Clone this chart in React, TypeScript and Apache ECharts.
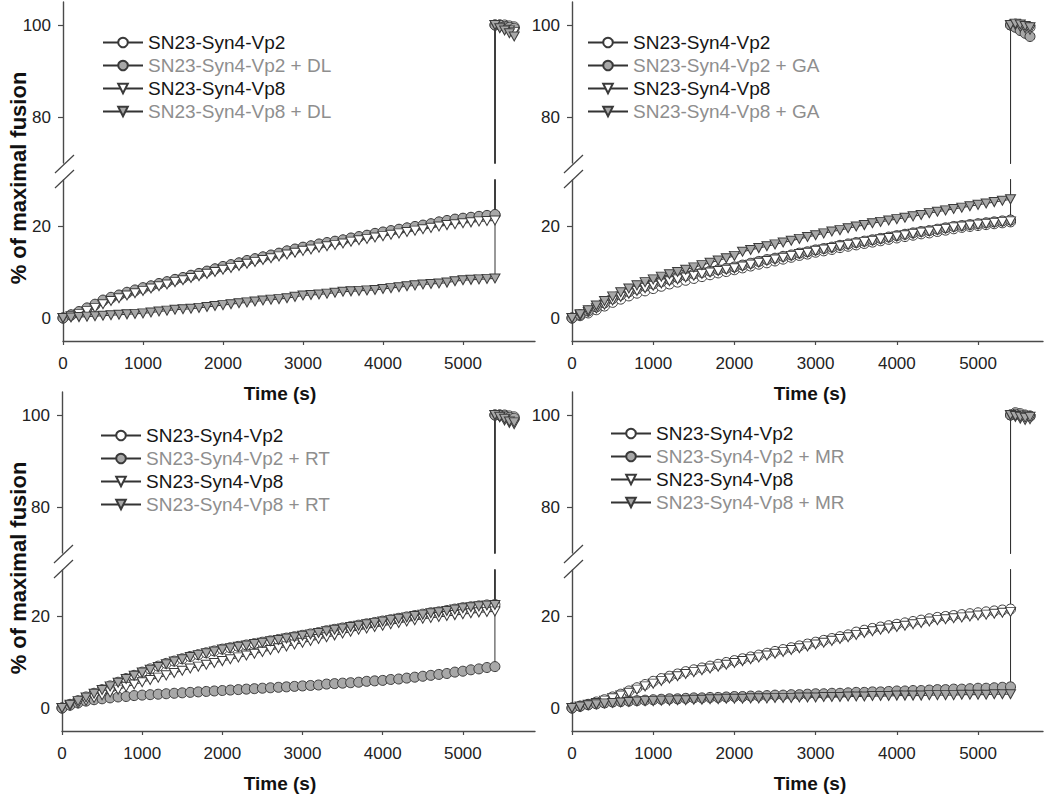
import React, { useEffect, useRef } from "react";
import * as echarts from "echarts";

// ---------- DATA ----------
const times = [
  0, 100, 200, 300, 400, 500, 600, 700, 800, 900,
  1000, 1100, 1200, 1300, 1400, 1500, 1600, 1700, 1800, 1900,
  2000, 2100, 2200, 2300, 2400, 2500, 2600, 2700, 2800, 2900,
  3000, 3100, 3200, 3300, 3400, 3500, 3600, 3700, 3800, 3900,
  4000, 4100, 4200, 4300, 4400, 4500, 4600, 4700, 4800, 4900,
  5000, 5100, 5200, 5300, 5400,
];
const upperTimes = [5400, 5460, 5520, 5580, 5640];
const xTickValues = [0, 1000, 2000, 3000, 4000, 5000];
const lowerTickValues = [0, 20];
const upperTickValues = [80, 100];

// Panel DL
const dlVp2 = [
  0, 0.6, 1.3, 2.0, 2.8, 3.7, 4.3, 4.9, 5.4, 5.9,
  6.4, 6.9, 7.4, 7.8, 8.3, 8.7, 9.2, 9.6, 10.1, 10.6,
  11.1, 11.5, 11.9, 12.4, 12.8, 13.2, 13.6, 14.0, 14.5, 14.9,
  15.3, 15.6, 16.0, 16.3, 16.6, 16.9, 17.3, 17.6, 17.9, 18.3,
  18.6, 18.9, 19.2, 19.5, 19.8, 20.1, 20.4, 20.8, 21.1, 21.4,
  21.6, 21.8, 22.0, 22.2, 22.4,
];
const dlVp2Drug = [
  0, 0.7, 1.4, 2.2, 3.0, 3.9, 4.5, 5.0, 5.6, 6.1,
  6.6, 7.0, 7.5, 7.9, 8.4, 8.8, 9.3, 9.7, 10.2, 10.7,
  11.2, 11.6, 12.0, 12.5, 12.9, 13.3, 13.7, 14.1, 14.6, 15.0,
  15.4, 15.7, 16.1, 16.4, 16.7, 17.0, 17.4, 17.7, 18.0, 18.4,
  18.7, 19.0, 19.3, 19.6, 19.9, 20.2, 20.5, 20.9, 21.2, 21.5,
  21.7, 21.9, 22.1, 22.3, 22.5,
];
const dlVp8 = [
  0, 0.4, 0.9, 1.5, 2.2, 3.0, 3.7, 4.3, 4.9, 5.4,
  5.9, 6.4, 6.9, 7.3, 7.8, 8.2, 8.7, 9.1, 9.6, 10.0,
  10.5, 10.9, 11.3, 11.8, 12.2, 12.6, 13.0, 13.4, 13.8, 14.2,
  14.6, 14.9, 15.3, 15.6, 15.9, 16.2, 16.6, 16.9, 17.2, 17.5,
  17.8, 18.1, 18.4, 18.7, 19.0, 19.3, 19.6, 19.9, 20.2, 20.4,
  20.6, 20.8, 21.0, 21.1, 21.2,
];
const dlVp8Drug = [
  0, 0.1, 0.2, 0.3, 0.4, 0.5, 0.6, 0.7, 0.8, 0.9,
  1.0, 1.2, 1.4, 1.6, 1.8, 1.9, 2.0, 2.2, 2.4, 2.6,
  2.8, 3.0, 3.2, 3.4, 3.6, 3.8, 4.0, 4.1, 4.3, 4.6,
  4.9, 5.0, 5.1, 5.3, 5.5, 5.7, 5.8, 5.9, 6.0, 6.1,
  6.3, 6.5, 6.7, 6.9, 7.1, 7.3, 7.4, 7.5, 7.7, 8.0,
  8.2, 8.3, 8.4, 8.5, 8.6,
];
const dlUpper = [
  [100, 100, 100, 99.8, 99.6],
  [100, 100, 99.7, 99.5, 99.3],
  [100, 99.5, 99.0, 98.8, 98.5],
  [100, 99.3, 98.8, 98.2, 97.5],
];

// Panel GA
const gaVp2 = [
  0, 0.5, 1.1, 1.8, 2.6, 3.4, 4.1, 4.8, 5.4, 5.9,
  6.4, 6.9, 7.4, 7.8, 8.2, 8.6, 9.0, 9.4, 9.8, 10.1,
  10.5, 10.9, 11.3, 11.7, 12.0, 12.4, 12.8, 13.2, 13.6, 13.9,
  14.3, 14.6, 14.9, 15.3, 15.6, 15.9, 16.2, 16.5, 16.8, 17.1,
  17.4, 17.7, 18.0, 18.3, 18.5, 18.8, 19.1, 19.4, 19.7, 19.9,
  20.1, 20.3, 20.5, 20.7, 20.9,
];
const gaVp2Drug = [
  0, 0.7, 1.5, 2.4, 3.3, 4.2, 5.0, 5.7, 6.3, 6.9,
  7.4, 7.9, 8.4, 8.8, 9.2, 9.6, 9.9, 10.2, 10.5, 10.8,
  11.1, 11.5, 11.9, 12.3, 12.7, 13.0, 13.4, 13.7, 14.1, 14.4,
  14.8, 15.1, 15.4, 15.8, 16.1, 16.4, 16.7, 17.0, 17.3, 17.6,
  17.9, 18.2, 18.5, 18.8, 19.0, 19.3, 19.6, 19.9, 20.1, 20.3,
  20.5, 20.7, 20.9, 21.1, 21.3,
];
const gaVp8 = [
  0, 0.6, 1.3, 2.1, 2.9, 3.8, 4.6, 5.3, 5.9, 6.5,
  7.0, 7.5, 8.0, 8.4, 8.8, 9.2, 9.6, 9.9, 10.2, 10.5,
  10.8, 11.2, 11.6, 12.0, 12.4, 12.7, 13.1, 13.5, 13.9, 14.2,
  14.6, 14.9, 15.2, 15.6, 15.9, 16.2, 16.5, 16.8, 17.1, 17.4,
  17.7, 18.0, 18.3, 18.6, 18.8, 19.1, 19.4, 19.7, 19.9, 20.1,
  20.3, 20.5, 20.7, 20.9, 21.0,
];
const gaVp8Drug = [
  0, 0.8, 1.7, 2.7, 3.7, 4.7, 5.6, 6.4, 7.1, 7.8,
  8.4, 9.0, 9.5, 10.0, 10.5, 11.0, 11.5, 12.0, 12.5, 13.0,
  13.5, 14.4, 14.8, 15.2, 15.6, 16.0, 16.4, 16.8, 17.2, 17.6,
  18.0, 18.4, 18.8, 19.1, 19.5, 19.9, 20.2, 20.6, 20.9, 21.2,
  21.5, 21.8, 22.1, 22.4, 22.8, 23.1, 23.4, 23.7, 24.0, 24.3,
  24.6, 24.9, 25.2, 25.5, 25.8,
];
const gaUpper = [
  [100, 100.2, 100, 99.7, 99.5],
  [100, 99.5, 98.8, 98.2, 97.5],
  [100, 100, 99.6, 99.3, 99.0],
  [100, 100.3, 100.1, 99.8, 99.5],
];

// Panel RT
const rtVp2 = [
  0, 0.8, 1.6, 2.4, 3.2, 4.0, 4.8, 5.6, 6.4, 7.1,
  7.8, 8.5, 9.1, 9.7, 10.2, 10.7, 11.2, 11.6, 12.0, 12.4,
  12.8, 13.1, 13.4, 13.7, 14.0, 14.3, 14.6, 14.9, 15.2, 15.5,
  15.8, 16.1, 16.4, 16.8, 17.1, 17.4, 17.7, 18.0, 18.3, 18.6,
  18.9, 19.2, 19.5, 19.8, 20.1, 20.4, 20.7, 20.9, 21.2, 21.5,
  21.8, 22.0, 22.2, 22.4, 22.5,
];
const rtVp2Drug = [
  0, 0.6, 1.1, 1.5, 1.8, 2.0, 2.2, 2.4, 2.5, 2.7,
  2.8, 2.9, 3.0, 3.1, 3.2, 3.3, 3.4, 3.5, 3.6, 3.7,
  3.8, 3.9, 4.0, 4.1, 4.2, 4.3, 4.4, 4.5, 4.6, 4.7,
  4.8, 4.9, 5.0, 5.2, 5.3, 5.4, 5.5, 5.6, 5.8, 5.9,
  6.0, 6.2, 6.3, 6.5, 6.7, 6.9, 7.1, 7.3, 7.5, 7.8,
  8.0, 8.3, 8.5, 8.8, 9.0,
];
const rtVp8 = [
  0, 0.5, 1.0, 1.6, 2.2, 2.8, 3.4, 4.0, 4.6, 5.1,
  5.6, 6.1, 6.6, 7.1, 7.6, 8.1, 8.6, 9.0, 9.4, 9.8,
  10.2, 10.6, 11.0, 11.4, 11.8, 12.2, 12.6, 13.0, 13.4, 13.8,
  14.2, 14.6, 15.0, 15.4, 15.8, 16.2, 16.6, 17.0, 17.3, 17.6,
  17.9, 18.2, 18.5, 18.8, 19.1, 19.4, 19.6, 19.8, 20.0, 20.2,
  20.4, 20.6, 20.8, 20.9, 21.0,
];
const rtVp8Drug = [
  0, 0.7, 1.5, 2.3, 3.1, 3.9, 4.7, 5.5, 6.3, 7.0,
  7.7, 8.3, 8.9, 9.5, 10.1, 10.6, 11.1, 11.5, 11.9, 12.3,
  12.7, 13.0, 13.3, 13.6, 13.9, 14.2, 14.5, 14.8, 15.1, 15.4,
  15.7, 16.0, 16.3, 16.7, 17.0, 17.3, 17.6, 17.9, 18.2, 18.5,
  18.8, 19.1, 19.4, 19.7, 20.0, 20.3, 20.6, 20.8, 21.1, 21.4,
  21.7, 21.9, 22.1, 22.3, 22.4,
];
const rtUpper = [
  [100, 100, 100, 99.8, 99.6],
  [100, 100, 99.8, 99.5, 99.3],
  [100, 99.5, 98.8, 98.3, 98.0],
  [100, 99.6, 99.2, 98.6, 98.4],
];

// Panel MR
const mrVp2 = [
  0, 0.4, 0.8, 1.3, 1.8, 2.4, 3.0, 3.7, 4.4, 5.1,
  5.8, 6.4, 6.9, 7.4, 7.9, 8.3, 8.7, 9.1, 9.5, 9.9,
  10.3, 10.7, 11.1, 11.5, 11.9, 12.3, 12.7, 13.1, 13.5, 13.9,
  14.3, 14.7, 15.1, 15.5, 15.9, 16.5, 16.9, 17.3, 17.6, 17.9,
  18.2, 18.5, 18.8, 19.1, 19.4, 19.7, 19.9, 20.1, 20.3, 20.5,
  20.7, 20.9, 21.1, 21.3, 21.5,
];
const mrVp2Drug = [
  0, 0.4, 0.7, 0.9, 1.1, 1.3, 1.4, 1.5, 1.6, 1.7,
  1.8, 1.9, 2.0, 2.0, 2.1, 2.2, 2.2, 2.3, 2.3, 2.4,
  2.5, 2.5, 2.6, 2.6, 2.7, 2.8, 2.8, 2.9, 2.9, 3.0,
  3.1, 3.1, 3.2, 3.2, 3.3, 3.4, 3.4, 3.5, 3.5, 3.6,
  3.7, 3.7, 3.8, 3.8, 3.9, 4.0, 4.0, 4.1, 4.1, 4.2,
  4.3, 4.3, 4.4, 4.5, 4.6,
];
const mrVp8 = [
  0, 0.3, 0.7, 1.1, 1.6, 2.1, 2.7, 3.3, 4.0, 4.7,
  5.3, 5.9, 6.4, 6.9, 7.4, 7.8, 8.2, 8.6, 9.0, 9.4,
  9.8, 10.2, 10.6, 11.0, 11.4, 11.8, 12.2, 12.6, 13.0, 13.4,
  13.8, 14.2, 14.6, 15.0, 15.4, 15.9, 16.3, 16.7, 17.0, 17.3,
  17.6, 17.9, 18.2, 18.5, 18.8, 19.1, 19.3, 19.5, 19.7, 19.9,
  20.1, 20.3, 20.5, 20.7, 20.9,
];
const mrVp8Drug = [
  0, 0.3, 0.6, 0.8, 1.0, 1.1, 1.2, 1.3, 1.4, 1.5,
  1.5, 1.6, 1.6, 1.7, 1.7, 1.8, 1.8, 1.9, 1.9, 2.0,
  2.0, 2.0, 2.1, 2.1, 2.1, 2.2, 2.2, 2.2, 2.3, 2.3,
  2.3, 2.4, 2.4, 2.4, 2.5, 2.5, 2.5, 2.6, 2.6, 2.6,
  2.7, 2.7, 2.7, 2.7, 2.8, 2.8, 2.8, 2.8, 2.9, 2.9,
  2.9, 2.9, 3.0, 3.0, 3.0,
];
const mrUpper = [
  [100, 100.5, 100.3, 100, 99.8],
  [100, 100.2, 100, 99.8, 99.7],
  [100, 99.6, 99.2, 98.9, 99.1],
  [100, 99.8, 99.6, 99.4, 99.6],
];

const drugTags = ["DL", "GA", "RT", "MR"];

// ---------- LAYOUT / STYLE ----------
const FONT = "'Liberation Sans', Arial, Helvetica, sans-serif";
const TRI = "path://M0,0L10,0L5,9Z";

const panels = [
  { tag: drugTags[0], lower: [dlVp2, dlVp2Drug, dlVp8, dlVp8Drug], upper: dlUpper, left: 63, width: 472, xMax: 5900, top: 2, legendLeft: 97, legendTop: 28, timeX: 280 },
  { tag: drugTags[1], lower: [gaVp2, gaVp2Drug, gaVp8, gaVp8Drug], upper: gaUpper, left: 572, width: 471, xMax: 5800, top: 2, legendLeft: 582, legendTop: 28, timeX: 810 },
  { tag: drugTags[2], lower: [rtVp2, rtVp2Drug, rtVp8, rtVp8Drug], upper: rtUpper, left: 62, width: 473, xMax: 5900, top: 392, legendLeft: 95, legendTop: 421, timeX: 280 },
  { tag: drugTags[3], lower: [mrVp2, mrVp2Drug, mrVp8, mrVp8Drug], upper: mrUpper, left: 572, width: 471, xMax: 5800, top: 392, legendLeft: 605, legendTop: 419, timeX: 810 },
];

const markerStyles = [
  { symbol: "circle", size: 10, fill: "#ffffff" },
  { symbol: "circle", size: 10, fill: "#a8a8a8" },
  { symbol: TRI, size: [10, 9], fill: "#ffffff" },
  { symbol: TRI, size: [10, 9], fill: "#a8a8a8" },
];

const seriesNames = (tag: string) => [
  "SN23-Syn4-Vp2",
  `SN23-Syn4-Vp2 + ${tag}`,
  "SN23-Syn4-Vp8",
  `SN23-Syn4-Vp8 + ${tag}`,
];

const AXIS_COLOR = "#4a4a4a";
const LABEL_COLOR = "#222";
const UPPER_H = 161;
const GAP = 17;
const LOWER_H = 161;

function buildOption() {
  const grid: any[] = [];
  const xAxis: any[] = [];
  const yAxis: any[] = [];
  const series: any[] = [];
  const legend: any[] = [];
  const graphic: any[] = [];

  panels.forEach((p, pi) => {
    const upperTop = p.top;
    const lowerTop = p.top + UPPER_H + GAP;
    grid.push({ left: p.left, top: upperTop, width: p.width, height: UPPER_H });
    grid.push({ left: p.left, top: lowerTop, width: p.width, height: LOWER_H });

    xAxis.push({
      gridIndex: 2 * pi, type: "value", min: 0, max: p.xMax, show: false,
      axisLine: { onZero: false }, splitLine: { show: false },
    });
    xAxis.push({
      gridIndex: 2 * pi + 1, type: "value", min: 0, max: p.xMax,
      axisLine: { onZero: false, lineStyle: { color: AXIS_COLOR, width: 1.4 } },
      axisTick: { show: true, length: 4, customValues: xTickValues, lineStyle: { color: AXIS_COLOR, width: 1.2 } },
      axisLabel: {
        customValues: xTickValues, fontSize: 17, color: LABEL_COLOR, fontFamily: FONT, margin: 14,
        formatter: (v: number) => String(v),
      },
      splitLine: { show: false },
    });
    yAxis.push({
      gridIndex: 2 * pi, type: "value", min: 70, max: 105,
      axisLine: { show: true, onZero: false, lineStyle: { color: AXIS_COLOR, width: 1.4 } },
      axisTick: { show: true, length: 5, customValues: upperTickValues, lineStyle: { color: AXIS_COLOR, width: 1.2 } },
      axisLabel: { customValues: upperTickValues, fontSize: 17, color: LABEL_COLOR, fontFamily: FONT, margin: 12 },
      splitLine: { show: false },
    });
    yAxis.push({
      gridIndex: 2 * pi + 1, type: "value", min: -5, max: 30,
      axisLine: { show: true, onZero: false, lineStyle: { color: AXIS_COLOR, width: 1.4 } },
      axisTick: { show: true, length: 5, customValues: lowerTickValues, lineStyle: { color: AXIS_COLOR, width: 1.2 } },
      axisLabel: { customValues: lowerTickValues, fontSize: 17, color: LABEL_COLOR, fontFamily: FONT, margin: 12 },
      splitLine: { show: false },
    });

    const names = seriesNames(p.tag);
    p.lower.forEach((vals, si) => {
      const st = markerStyles[si];
      const common = {
        type: "line",
        name: names[si],
        symbol: st.symbol,
        symbolSize: st.size,
        lineStyle: { color: "#333", width: 1 },
        itemStyle: { color: st.fill, borderColor: "#3a3a3a", borderWidth: 1 },
        clip: true,
        emphasis: { disabled: true },
        silent: true,
      };
      const up = p.upper[si];
      const lowerData: number[][] = times.map((t, i) => [t, vals[i]]);
      lowerData.push([upperTimes[0], up[0]]);
      series.push({ ...common, xAxisIndex: 2 * pi + 1, yAxisIndex: 2 * pi + 1, data: lowerData });
      const upperData: number[][] = [[times[times.length - 1], vals[vals.length - 1]]];
      upperTimes.forEach((t, i) => upperData.push([t, up[i]]));
      series.push({ ...common, xAxisIndex: 2 * pi, yAxisIndex: 2 * pi, data: upperData });
    });

    legend.push({
      left: p.legendLeft,
      top: p.legendTop,
      orient: "vertical",
      itemWidth: 40,
      itemHeight: 12,
      itemGap: 4,
      selectedMode: false,
      textStyle: { fontSize: 19, fontFamily: FONT, lineHeight: 18 },
      data: names.map((n, i) => ({ name: n, textStyle: { color: i % 2 ? "#8e8e8e" : "#161616" } })),
    });

    const ax = p.left;
    const b = p.top - 2;
    graphic.push({
      type: "line", shape: { x1: ax - 8, y1: b + 173, x2: ax + 11, y2: b + 155 },
      style: { stroke: "#444", lineWidth: 1.2 },
    });
    graphic.push({
      type: "line", shape: { x1: ax - 8, y1: b + 188, x2: ax + 11, y2: b + 170 },
      style: { stroke: "#444", lineWidth: 1.2 },
    });
    graphic.push({
      type: "text", x: p.timeX, y: p.top + 391,
      style: { text: "Time (s)", fontSize: 19, fontWeight: "bold", fontFamily: FONT, fill: "#111", align: "center", verticalAlign: "middle" },
    });
    if (pi % 2 === 0) {
      graphic.push({
        type: "text", x: 18, y: p.top + 176, rotation: Math.PI / 2,
        style: { text: "% of maximal fusion", fontSize: 22, fontWeight: "bold", fontFamily: FONT, fill: "#111", align: "center", verticalAlign: "middle" },
      });
    }
  });

  return {
    animation: false,
    backgroundColor: "#ffffff",
    grid, xAxis, yAxis, series, legend, graphic,
  };
}

export default function App() {
  const ref = useRef<HTMLDivElement>(null);
  useEffect(() => {
    if (!ref.current) return;
    const chart = echarts.init(ref.current, null, { renderer: "svg" });
    chart.setOption(buildOption() as any);
    return () => chart.dispose();
  }, []);
  return (
    <div
      ref={ref}
      style={{ position: "fixed", left: 0, top: 0, width: 1050, height: 794, background: "#fff" }}
    />
  );
}
